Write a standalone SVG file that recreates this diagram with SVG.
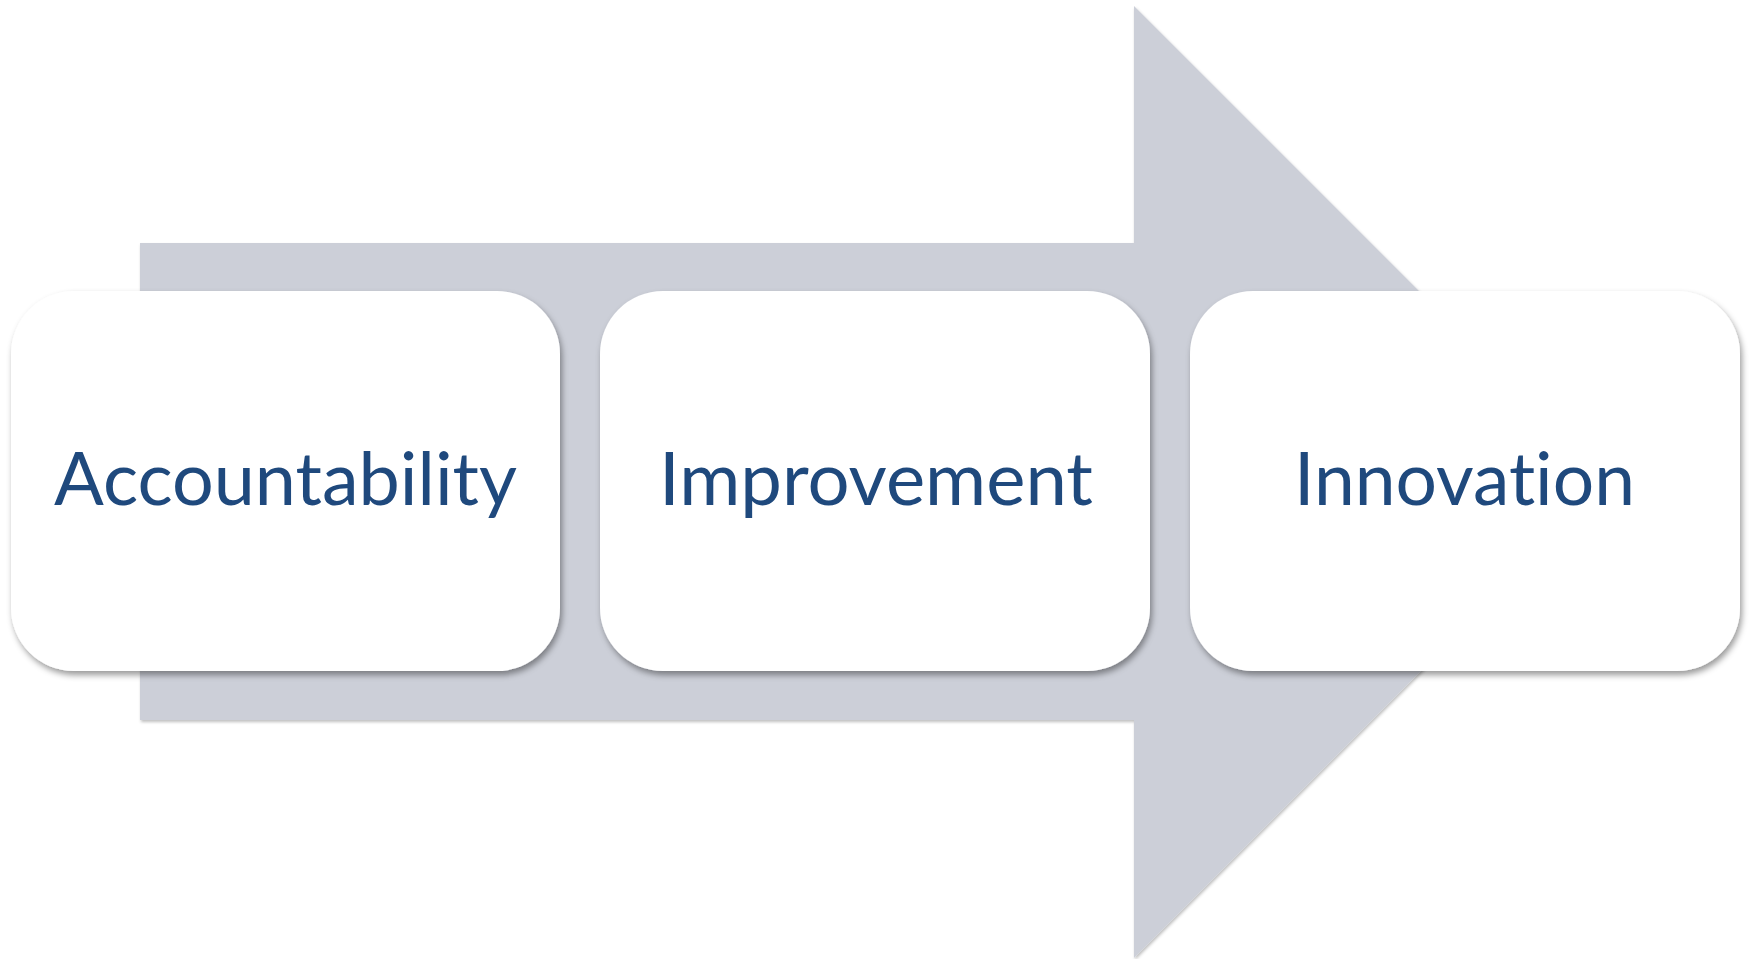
<svg xmlns="http://www.w3.org/2000/svg" width="1752" height="959" viewBox="0 0 1752 959">
  <defs>
    <filter id="boxShadow" x="-10%" y="-10%" width="120%" height="125%">
      <feDropShadow dx="2" dy="4" stdDeviation="3" flood-color="#000" flood-opacity="0.4"/>
    </filter>
    <filter id="arrowShadow" x="-5%" y="-5%" width="110%" height="110%">
      <feDropShadow dx="1" dy="2" stdDeviation="1.5" flood-color="#000" flood-opacity="0.25"/>
    </filter>
  </defs>
  <style>
    .box { fill: #ffffff; filter: url(#boxShadow); }
    .label { font-family: Lato, "Open Sans", "Liberation Sans", sans-serif; font-size: 73px; fill: #1F497D; text-anchor: middle; font-variant-ligatures: none; font-feature-settings: "liga" 0, "clig" 0, "dlig" 0; }
  </style>
  <rect width="1752" height="959" fill="#ffffff"/>
  <g id="connectors">
    <path d="M140,243 L1134,243 L1134,6 L1610,482 L1134,958 L1134,720 L140,720 Z" fill="#CCCFD8" filter="url(#arrowShadow)"/>
  </g>
  <g id="node-accountability">
    <rect class="box" x="11" y="291" width="549" height="380" rx="63" ry="63"/>
    <text class="label" x="285.5" y="505" textLength="463" lengthAdjust="spacingAndGlyphs">Accountability</text>
  </g>
  <g id="node-improvement">
    <rect class="box" x="600" y="291" width="550" height="380" rx="63" ry="63"/>
    <text class="label" x="876" y="505" textLength="434" lengthAdjust="spacingAndGlyphs">Improvement</text>
  </g>
  <g id="node-innovation">
    <rect class="box" x="1190" y="291" width="550" height="380" rx="63" ry="63"/>
    <text class="label" x="1464.5" y="505" textLength="341" lengthAdjust="spacingAndGlyphs">Innovation</text>
  </g>
</svg>
